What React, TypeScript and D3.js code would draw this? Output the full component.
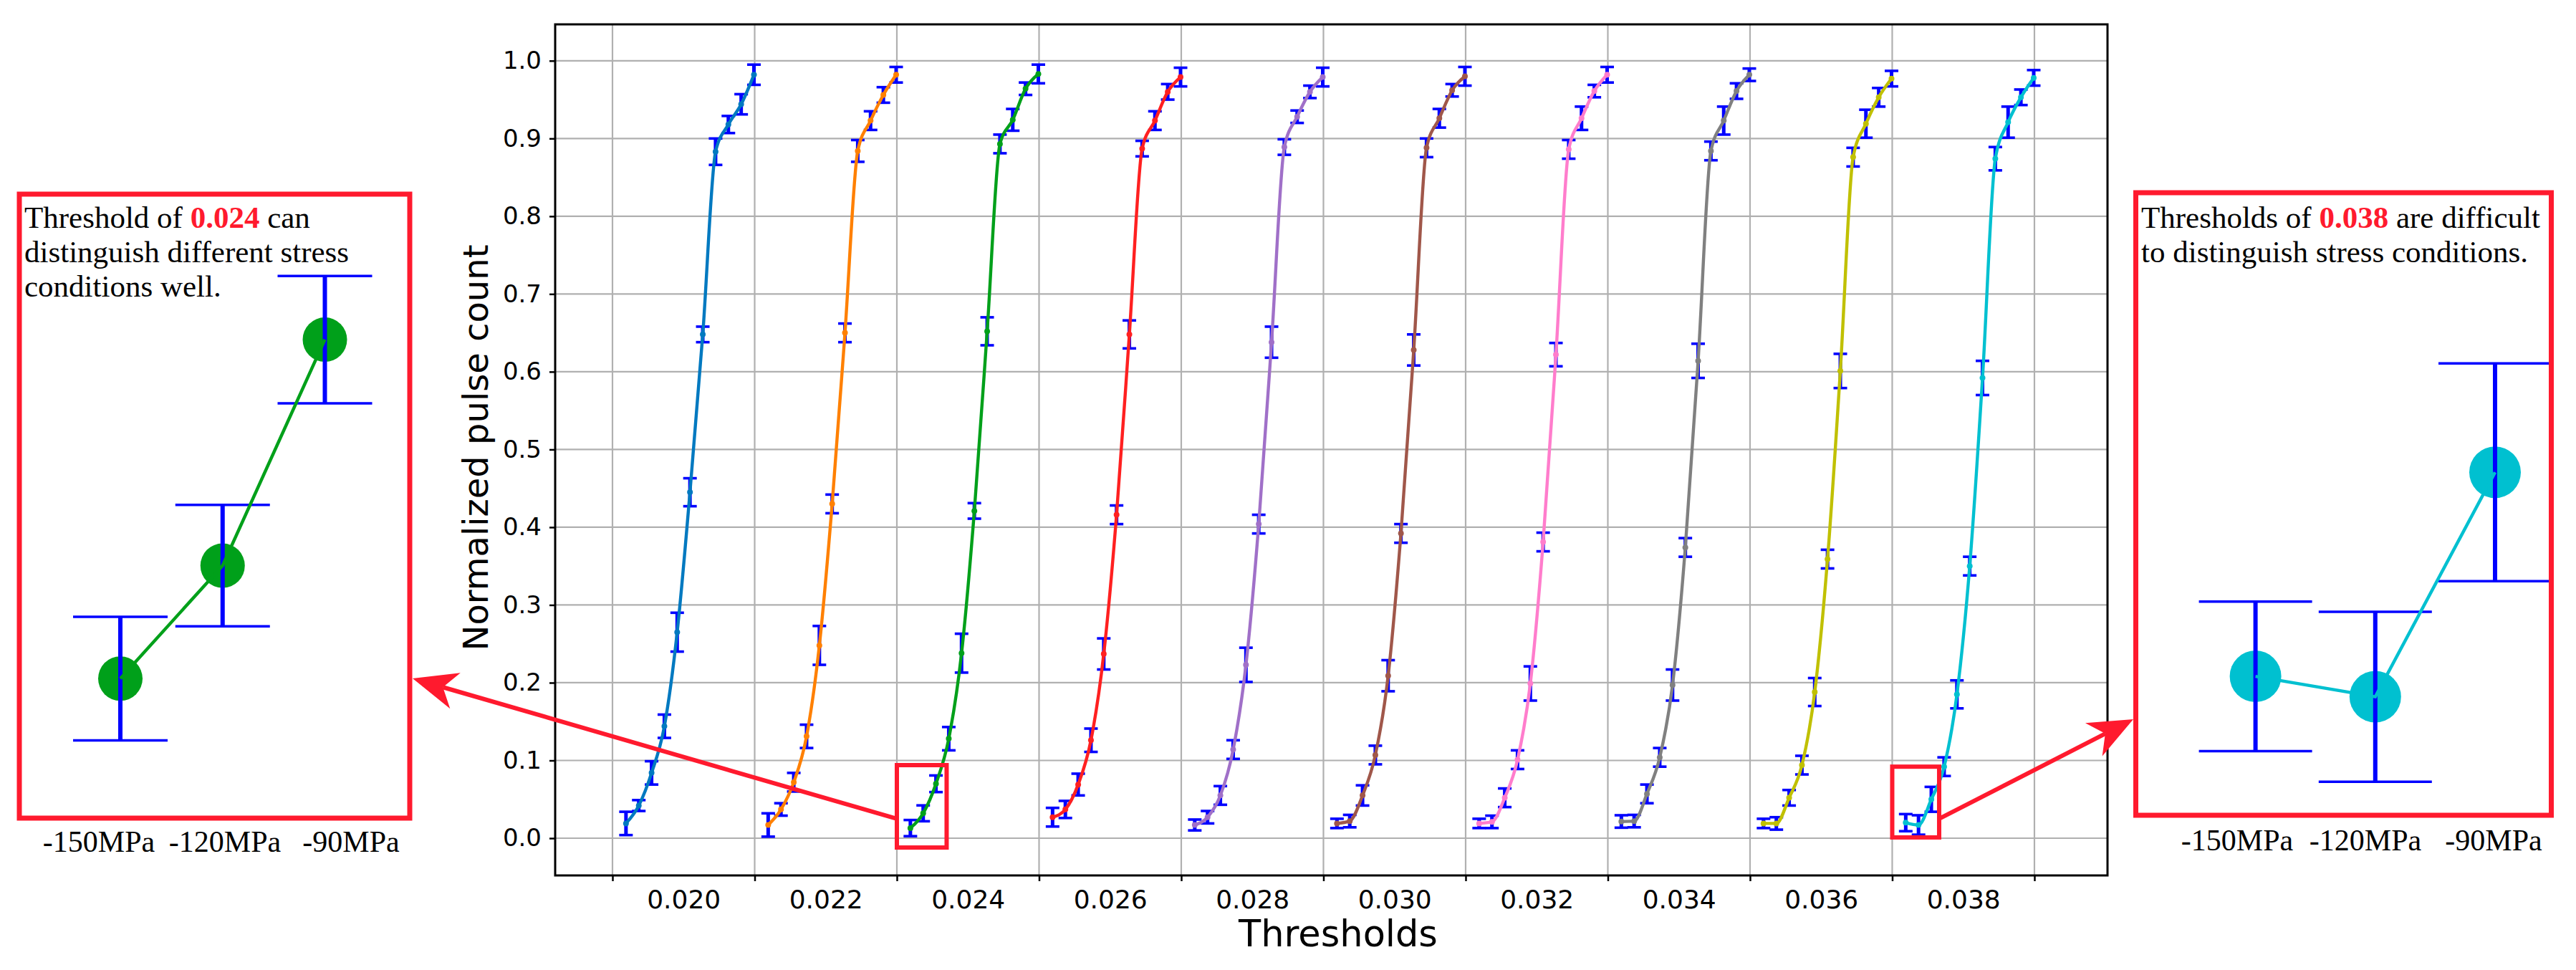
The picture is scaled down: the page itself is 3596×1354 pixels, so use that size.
import { useEffect, useRef } from 'react'
import * as d3 from 'd3'

// threshold groups (label sits in the middle of each group)
const thresholds = [0.020, 0.022, 0.024, 0.026, 0.028, 0.030, 0.032, 0.034, 0.036, 0.038]
const tickEdges = [0.019, 0.021, 0.023, 0.025, 0.027, 0.029, 0.031, 0.033, 0.035, 0.037, 0.039]
// position of the 11 measurements inside a group, relative to the group label
const pointOffsets = [-0.00081, -0.00063, -0.00045, -0.00027, -0.00009, 0.00009, 0.00027, 0.00045, 0.00063, 0.00081, 0.00099]
const yTicks = [0.0, 0.1, 0.2, 0.3, 0.4, 0.5, 0.6, 0.7, 0.8, 0.9, 1.0]
const seriesColors = ['#0079c0', '#ff8000', '#00a01a', '#ff2020', '#a070c8', '#a0574a', '#ff7dcc', '#808080', '#c0c000', '#00c0d0']

const pulse020 = [0.019, 0.042, 0.084, 0.144, 0.265, 0.445, 0.648, 0.883, 0.918, 0.944, 0.982]
const pulse022 = [0.017, 0.037, 0.072, 0.131, 0.248, 0.430, 0.650, 0.884, 0.923, 0.956, 0.982]
const pulse024 = [0.013, 0.032, 0.070, 0.128, 0.238, 0.421, 0.652, 0.893, 0.924, 0.964, 0.983]
const pulse026 = [0.027, 0.037, 0.069, 0.126, 0.237, 0.416, 0.648, 0.887, 0.923, 0.960, 0.979]
const pulse028 = [0.017, 0.027, 0.055, 0.114, 0.223, 0.404, 0.638, 0.889, 0.928, 0.960, 0.979]
const pulse030 = [0.019, 0.022, 0.055, 0.107, 0.209, 0.392, 0.628, 0.888, 0.926, 0.962, 0.980]
const pulse032 = [0.019, 0.021, 0.052, 0.101, 0.199, 0.381, 0.622, 0.886, 0.926, 0.961, 0.982]
const pulse034 = [0.0215, 0.022, 0.057, 0.104, 0.197, 0.374, 0.614, 0.884, 0.923, 0.961, 0.982]
const pulse036 = [0.019, 0.019, 0.052, 0.094, 0.188, 0.359, 0.601, 0.876, 0.919, 0.953, 0.977]
const pulse038 = [0.020, 0.017, 0.050, 0.092, 0.185, 0.350, 0.592, 0.874, 0.921, 0.953, 0.978]

const err020 = [0.015, 0.007, 0.015, 0.015, 0.025, 0.018, 0.010, 0.017, 0.011, 0.013, 0.013]
const err022 = [0.015, 0.008, 0.012, 0.015, 0.025, 0.012, 0.012, 0.014, 0.012, 0.010, 0.010]
const err024 = [0.0104, 0.0102, 0.0107, 0.015, 0.025, 0.010, 0.018, 0.012, 0.014, 0.008, 0.012]
const err026 = [0.012, 0.011, 0.014, 0.015, 0.020, 0.012, 0.018, 0.010, 0.012, 0.010, 0.012]
const err028 = [0.007, 0.008, 0.012, 0.012, 0.022, 0.012, 0.020, 0.010, 0.008, 0.008, 0.012]
const err030 = [0.006, 0.008, 0.013, 0.012, 0.020, 0.012, 0.020, 0.012, 0.012, 0.008, 0.012]
const err032 = [0.006, 0.008, 0.012, 0.012, 0.022, 0.012, 0.015, 0.012, 0.015, 0.008, 0.010]
const err034 = [0.008, 0.008, 0.012, 0.012, 0.020, 0.012, 0.022, 0.012, 0.018, 0.010, 0.008]
const err036 = [0.006, 0.008, 0.010, 0.012, 0.018, 0.012, 0.022, 0.012, 0.018, 0.012, 0.010]
const err038 = [0.011, 0.0125, 0.016, 0.012, 0.018, 0.012, 0.022, 0.015, 0.020, 0.010, 0.010]

const seriesValues = [pulse020, pulse022, pulse024, pulse026, pulse028, pulse030, pulse032, pulse034, pulse036, pulse038]
const seriesErrors = [err020, err022, err024, err026, err028, err030, err032, err034, err036, err038]

const stressLabels = ['-150MPa', '-120MPa', '-90MPa']

const W = 3596
const H = 1354
const RED = '#ff1a2e'
const BAR = '#0000ff'

function App() {
    const ref = useRef(null)

    useEffect(() => {
        const svg = d3.select(ref.current)
        svg.selectAll('*').remove()

        const plot = { left: 775, right: 2942, top: 34, bottom: 1222 }

        const x = d3.scaleLinear().domain([0.018194, 0.040028]).range([plot.left, plot.right])
        const y = d3.scaleLinear().domain([-0.0479, 1.0468]).range([plot.bottom, plot.top])

        svg.append('rect').attr('width', W).attr('height', H).attr('fill', '#fff')

        // grid
        const grid = svg.append('g').attr('stroke', '#b0b0b0').attr('stroke-width', 2.2)
        grid.selectAll('.gy').data(yTicks).join('line')
            .attr('x1', plot.left).attr('x2', plot.right)
            .attr('y1', d => y(d)).attr('y2', d => y(d))
        grid.selectAll('.gx').data(tickEdges).join('line')
            .attr('x1', d => x(d)).attr('x2', d => x(d))
            .attr('y1', plot.top).attr('y2', plot.bottom)

        const series = seriesValues.map((vals, s) => vals.map((v, i) => ({
            x: thresholds[s] + pointOffsets[i],
            v,
            e: seriesErrors[s][i],
        })))

        // error bars
        const eb = svg.append('g')
        series.forEach(pts => {
            const g = eb.append('g')
            g.selectAll('.v').data(pts).join('line')
                .attr('stroke', BAR).attr('stroke-width', 5)
                .attr('x1', d => x(d.x)).attr('x2', d => x(d.x))
                .attr('y1', d => y(d.v - d.e)).attr('y2', d => y(d.v + d.e))
            g.selectAll('.t').data(pts.flatMap(d => [d.v - d.e, d.v + d.e].map(c => ({ x: d.x, c })))).join('line')
                .attr('stroke', BAR).attr('stroke-width', 3.6)
                .attr('x1', d => x(d.x) - 9.5).attr('x2', d => x(d.x) + 9.5)
                .attr('y1', d => y(d.c)).attr('y2', d => y(d.c))
        })

        // curves
        const line = d3.line().x(d => x(d.x)).y(d => y(d.v)).curve(d3.curveMonotoneX)
        series.forEach((pts, s) => {
            svg.append('path').datum(pts)
                .attr('d', line)
                .attr('fill', 'none')
                .attr('stroke', seriesColors[s])
                .attr('stroke-width', 4.4)
                .attr('stroke-linejoin', 'round')
            svg.append('g').selectAll('circle').data(pts).join('circle')
                .attr('cx', d => x(d.x)).attr('cy', d => y(d.v)).attr('r', 4)
                .attr('fill', seriesColors[s])
        })

        // frame
        svg.append('rect')
            .attr('x', plot.left).attr('y', plot.top)
            .attr('width', plot.right - plot.left).attr('height', plot.bottom - plot.top)
            .attr('fill', 'none').attr('stroke', '#000').attr('stroke-width', 3)

        const font = 'DejaVu Sans, sans-serif'

        // y axis
        const yAxis = svg.append('g')
            .attr('transform', `translate(${plot.left},0)`)
            .call(d3.axisLeft(y).tickValues(yTicks).tickFormat(d3.format('.1f')).tickSize(8).tickPadding(11))
        yAxis.select('.domain').remove()
        yAxis.selectAll('line').attr('stroke-width', 2.5)
        yAxis.selectAll('text').attr('font-size', 34).attr('font-family', font).attr('fill', '#000')

        // x axis: marks at group edges, labels at group centres
        const xMarks = svg.append('g')
            .attr('transform', `translate(0,${plot.bottom})`)
            .call(d3.axisBottom(x).tickValues(tickEdges).tickFormat(() => '').tickSize(8))
        xMarks.select('.domain').remove()
        xMarks.selectAll('line').attr('stroke-width', 2.5)

        const xLabels = svg.append('g')
            .attr('transform', `translate(0,${plot.bottom})`)
            .call(d3.axisBottom(x).tickValues(thresholds).tickFormat(d3.format('.3f')).tickSize(0).tickPadding(20))
        xLabels.select('.domain').remove()
        xLabels.selectAll('text').attr('font-size', 36).attr('font-family', font).attr('fill', '#000')

        svg.append('text')
            .attr('x', 1868).attr('y', 1321)
            .attr('text-anchor', 'middle')
            .attr('font-family', font).attr('font-size', 51)
            .text('Thresholds')

        svg.append('text')
            .attr('transform', 'translate(681,625) rotate(-90)')
            .attr('text-anchor', 'middle')
            .attr('font-family', font).attr('font-size', 48)
            .text('Normalized pulse count')

        // zoom boxes in the main chart
        const boxes = [
            { x0: 0.0230, x1: 0.0237, y0: -0.012, y1: 0.094, ay: 0.025 },
            { x0: 0.0370, x1: 0.03766, y0: 0.001, y1: 0.092, ay: 0.025 },
        ]
        boxes.forEach(b => {
            svg.append('rect')
                .attr('x', x(b.x0)).attr('y', y(b.y1))
                .attr('width', x(b.x1) - x(b.x0)).attr('height', y(b.y0) - y(b.y1))
                .attr('fill', 'none').attr('stroke', RED).attr('stroke-width', 6)
        })

        function arrow(sx, sy, tx, ty) {
            const dx = tx - sx, dy = ty - sy
            const len = Math.hypot(dx, dy)
            const ux = dx / len, uy = dy / len
            const nx = -uy, ny = ux
            const L = 62, Wd = 26, Ln = 44
            svg.append('line')
                .attr('x1', sx).attr('y1', sy)
                .attr('x2', tx - ux * Ln).attr('y2', ty - uy * Ln)
                .attr('stroke', RED).attr('stroke-width', 6)
            const pts = [
                [tx, ty],
                [tx - ux * L + nx * Wd, ty - uy * L + ny * Wd],
                [tx - ux * Ln, ty - uy * Ln],
                [tx - ux * L - nx * Wd, ty - uy * L - ny * Wd],
            ]
            svg.append('path').attr('d', 'M' + pts.map(p => p.join(',')).join('L') + 'Z').attr('fill', RED)
        }
        arrow(x(boxes[0].x0), y(boxes[0].ay), 576, 947)
        arrow(x(boxes[1].x1), y(boxes[1].ay), 2978, 1004)

        // insets
        const insets = [
            {
                s: 2, box: [27, 271, 572, 1142], yDomain: [-0.0107, 0.0947], yRange: [1144, 269],
                mark: [168, 453.5], lab: [138, 490], r: 31, cap: 132, labY: 1189,
                textX: 34, textY: 318,
                lines: [['Threshold of ', true, ' can'], ['distinguish different stress'], ['conditions well.']],
            },
            {
                s: 9, box: [2981.5, 269, 3561.5, 1138], yDomain: [-0.00084, 0.0912], yRange: [1142, 268],
                mark: [3148.6, 3483], lab: [3123, 3481], r: 36, cap: 158, labY: 1187,
                textX: 2989, textY: 318,
                lines: [['Thresholds of ', true, ' are difficult'], ['to distinguish stress conditions.']],
            },
        ]
        insets.forEach(ins => {
            const g = svg.append('g')
            const iy = d3.scaleLinear().domain(ins.yDomain).range(ins.yRange)
            const ix = d3.scalePoint().domain(stressLabels).range(ins.mark)
            const lx = d3.scalePoint().domain(stressLabels).range(ins.lab)
            const pts = stressLabels.map((k, i) => ({ k, v: seriesValues[ins.s][i], e: seriesErrors[ins.s][i] }))
            const col = seriesColors[ins.s]

            g.selectAll('circle').data(pts).join('circle')
                .attr('cx', d => ix(d.k)).attr('cy', d => iy(d.v)).attr('r', ins.r).attr('fill', col)
            g.selectAll('.v').data(pts).join('line')
                .attr('stroke', BAR).attr('stroke-width', 6)
                .attr('x1', d => ix(d.k)).attr('x2', d => ix(d.k))
                .attr('y1', d => iy(d.v - d.e)).attr('y2', d => iy(d.v + d.e))
            g.selectAll('.c').data(pts.flatMap(d => [d.v - d.e, d.v + d.e].map(c => ({ k: d.k, c })))).join('line')
                .attr('stroke', BAR).attr('stroke-width', 3.5)
                .attr('x1', d => ix(d.k) - ins.cap / 2).attr('x2', d => ix(d.k) + ins.cap / 2)
                .attr('y1', d => iy(d.c)).attr('y2', d => iy(d.c))
            g.append('path').datum(pts)
                .attr('d', d3.line().x(d => ix(d.k)).y(d => iy(d.v)))
                .attr('fill', 'none').attr('stroke', col).attr('stroke-width', 4.5)

            const [bx0, by0, bx1, by1] = ins.box
            g.append('rect')
                .attr('x', bx0).attr('y', by0).attr('width', bx1 - bx0).attr('height', by1 - by0)
                .attr('fill', 'none').attr('stroke', RED).attr('stroke-width', 7)

            g.selectAll('.lab').data(stressLabels).join('text')
                .attr('x', d => lx(d)).attr('y', ins.labY)
                .attr('text-anchor', 'middle')
                .attr('font-family', 'Liberation Serif, serif').attr('font-size', 42)
                .text(d => d)

            const t = g.append('text')
                .attr('font-family', 'Liberation Serif, serif').attr('font-size', 43)
            ins.lines.forEach((ln, li) => {
                ln.forEach((part, pi) => {
                    const sp = t.append('tspan')
                    if (pi === 0) sp.attr('x', ins.textX).attr('y', ins.textY + li * 48)
                    if (part === true) {
                        sp.attr('fill', RED).attr('font-weight', 'bold').text(d3.format('.3f')(thresholds[ins.s]))
                    } else {
                        sp.text(part)
                    }
                })
            })
        })
    }, [])

    return (
        <svg ref={ref} width={W} height={H}
             style={{ position: 'absolute', left: 0, top: 0, display: 'block' }} />
    )
}

export default App
